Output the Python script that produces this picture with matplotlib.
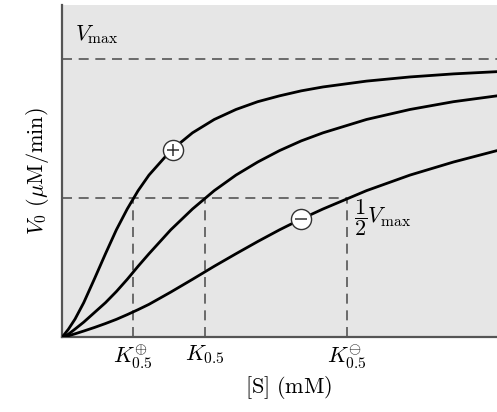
import numpy as np
import matplotlib.pyplot as plt

plt.rcParams['mathtext.fontset'] = 'cm'

# ---------------------------------------------------------------
# Datos (V0 en fraccion de Vmax, [S] en mM)
# ---------------------------------------------------------------
S = [0, 0.15, 0.3, 0.5, 0.75, 1.0, 1.25, 1.5, 1.75, 2.0, 2.5, 3.0,
     3.5, 4.0, 4.5, 5.0, 5.5, 6.0, 7.0, 8.0, 9.0, 10.0]

v_activador = [0, 0.030, 0.066, 0.125, 0.212, 0.301, 0.387, 0.462, 0.528,
               0.584, 0.672, 0.736, 0.784, 0.820, 0.848, 0.869, 0.887,
               0.901, 0.922, 0.937, 0.948, 0.956]
v_normal = [0, 0.012, 0.030, 0.055, 0.090, 0.125, 0.165, 0.209, 0.256,
            0.301, 0.387, 0.462, 0.528, 0.584, 0.631, 0.672, 0.707,
            0.736, 0.784, 0.820, 0.848, 0.869]
v_inhibidor = [0, 0.006, 0.013, 0.023, 0.036, 0.050, 0.065, 0.082, 0.100,
               0.119, 0.163, 0.209, 0.256, 0.301, 0.345, 0.387, 0.426,
               0.462, 0.528, 0.584, 0.631, 0.672]

VMAX = 1.0
K_valores = [1.64, 3.28, 6.56]
K_etiquetas = [r'$K_{0.5}^{\oplus}$', r'$K_{0.5}$', r'$K_{0.5}^{\ominus}$']

# posiciones de los simbolos (+) y (-) sobre las curvas
pos_mas = (2.55, 0.675)
pos_menos = (5.49, 0.427)

GRIS = '#555555'
GUION = (0, (6, 4))

fig = plt.figure(figsize=(4.97, 4.12), dpi=100)
ax = fig.add_axes([0.1247, 0.181, 0.8753, 0.807])
ax.set_facecolor('#e6e6e6')

for v in (v_activador, v_normal, v_inhibidor):
    ax.plot(S, v, color='black', lw=2.0, solid_capstyle='round', zorder=3)

# lineas guia
ax.axhline(VMAX, color=GRIS, lw=1.2, ls=GUION, zorder=2)
ax.plot([0, K_valores[2]], [VMAX / 2, VMAX / 2], color=GRIS, lw=1.2, ls=GUION, zorder=2)
for k in K_valores:
    ax.plot([k, k], [0, VMAX / 2], color=GRIS, lw=1.2, ls=GUION, zorder=2)

# simbolos en circulos
for (px, py), signo in ((pos_mas, '+'), (pos_menos, '_')):
    ax.plot(px, py, 'o', ms=14.5, mfc='white', mec='#333333', mew=1.0, zorder=4)
    ax.plot(px, py, signo, ms=9, mec='#333333', mew=1.1, zorder=5)

ax.text(0.30, 1.088, r'$V_{\rm max}$', fontsize=16, va='center', ha='left')
ax.text(6.72, 0.43, r'$\dfrac{1}{2}V_{\rm max}$', fontsize=16, va='center', ha='left')

ax.set_xlim(0, 10)
ax.set_ylim(0, 1.196)
ax.set_xticks(K_valores)
ax.set_xticklabels(K_etiquetas, fontsize=16)
ax.tick_params(axis='x', length=0, pad=4)
ax.set_yticks([])

for lado in ('top', 'right'):
    ax.spines[lado].set_visible(False)
for lado in ('left', 'bottom'):
    ax.spines[lado].set_color(GRIS)
    ax.spines[lado].set_linewidth(1.6)

ax.set_xlabel(r'$[\mathrm{S}]\ (\mathrm{mM})$', fontsize=16, labelpad=2)
ax.xaxis.label.set_x(0.52)
ax.set_ylabel(r'$V_0\ (\mu\mathrm{M/min})$', fontsize=16, labelpad=8)

plt.savefig('out.png', dpi=100)
